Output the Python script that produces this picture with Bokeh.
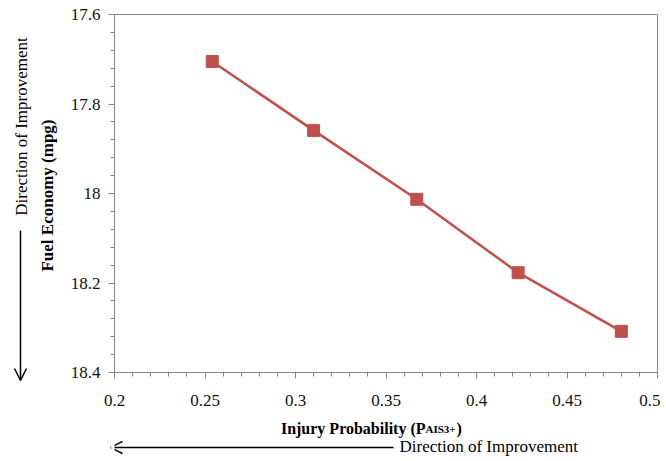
import numpy as np
from bokeh.plotting import figure
from bokeh.layouts import row, column
from bokeh.models import (Range1d, FixedTicker, Arrow, OpenHead,
                          CustomJSTickFormatter)
from bokeh.core.properties import value
from bokeh.embed import file_html
from bokeh.resources import INLINE

# ---- data ----
injury_prob = [0.254, 0.310, 0.367, 0.423, 0.480]
fuel_economy = [17.705, 17.859, 18.013, 18.177, 18.308]
x_ticks = [0.2, 0.25, 0.3, 0.35, 0.4, 0.45, 0.5]
y_ticks = [17.6, 17.8, 18.0, 18.2, 18.4]
x_title = "Injury Probability (P"
x_title_sub = "AIS3+"
x_title_end = ")"
y_title = "Fuel Economy (mpg)"
improve_text = "Direction of Improvement"

RED = "#C0504D"
GRAY = "#868686"
SERIF = "Liberation Serif"


def minors(ticks, n=5):
    out = []
    for a, b in zip(ticks[:-1], ticks[1:]):
        out.extend(np.linspace(a, b, n + 1)[1:-1].tolist())
    return out


def blank(width, height, xr, yr):
    f = figure(width=width, height=height, output_backend="svg",
               toolbar_location=None, x_range=Range1d(*xr), y_range=Range1d(*yr),
               x_axis_type=None, y_axis_type=None,
               min_border=0, min_border_left=0, min_border_right=0,
               min_border_top=0, min_border_bottom=0)
    f.outline_line_color = None
    f.grid.visible = False
    f.background_fill_color = "white"
    f.border_fill_color = "white"
    return f


# ---------- main plot ----------
p = figure(width=600, height=420, output_backend="svg", toolbar_location=None,
           x_range=Range1d(x_ticks[0], x_ticks[-1]),
           y_range=Range1d(y_ticks[-1], y_ticks[0]),
           min_border_left=54, min_border_right=3,
           min_border_top=14, min_border_bottom=48)
p.background_fill_color = "white"
p.border_fill_color = "white"
p.outline_line_color = GRAY
p.outline_line_width = 1
p.grid.visible = False

fmt = CustomJSTickFormatter(code="""
let s = tick.toFixed(2);
s = s.replace(/0+$/, '').replace(/\\.$/, '');
return s;
""")

p.xaxis.ticker = FixedTicker(ticks=x_ticks, minor_ticks=minors(x_ticks))
p.yaxis.ticker = FixedTicker(ticks=y_ticks, minor_ticks=minors(y_ticks))
for ax in (p.xaxis[0], p.yaxis[0]):
    ax.formatter = fmt
    ax.axis_line_color = GRAY
    ax.major_tick_line_color = GRAY
    ax.minor_tick_line_color = GRAY
    ax.major_tick_in = 0
    ax.major_tick_out = 6
    ax.minor_tick_in = 0
    ax.minor_tick_out = 4
    ax.major_label_text_font = SERIF
    ax.major_label_text_font_size = "17px"
    ax.major_label_text_color = "#111111"
p.xaxis.major_label_standoff = 16
p.yaxis.major_label_standoff = 8

p.line(injury_prob, fuel_economy, line_color=RED, line_width=2.5)
p.scatter(injury_prob, fuel_economy, marker="square", size=12,
          fill_color=RED, line_color=RED)

# ---------- left strip (page x 0..60, y 0..458) ----------
left = blank(60, 458, (0, 60), (458, 0))
left.text(x=[47], y=[195], text=[y_title], text_font=value(SERIF),
          text_font_style="bold", text_font_size="17px", text_align="center",
          text_baseline="middle", angle=np.pi / 2, text_color="black")
left.text(x=[21], y=[126], text=[improve_text], text_font=value(SERIF),
          text_font_size="17px", text_align="center",
          text_baseline="middle", angle=np.pi / 2, text_color="black")
left.add_layout(Arrow(x_start=20, y_start=230, x_end=20, y_end=380,
                      line_color="black", line_width=1.5,
                      end=OpenHead(size=12, line_color="black", line_width=1.5)))

# ---------- bottom strip (frame aligned to main frame: page x 114..657, y 420..458) ----------
bottom = blank(600, 38, (114, 657), (458, 420))
bottom.text(x=[425], y=[428], text=[x_title], text_font=value(SERIF),
            text_font_style="bold", text_font_size="16px", text_align="right",
            text_baseline="alphabetic", text_color="black")
bottom.text(x=[425], y=[428], text=[x_title_sub], text_font=value(SERIF),
            text_font_style="bold", text_font_size="11px", text_align="left",
            text_baseline="alphabetic", text_color="black")
bottom.text(x=[456], y=[428], text=[x_title_end], text_font=value(SERIF),
            text_font_style="bold", text_font_size="16px", text_align="left",
            text_baseline="alphabetic", text_color="black")
bottom.text(x=[399], y=[446], text=[improve_text], text_font=value(SERIF),
            text_font_size="17px", text_align="left",
            text_baseline="middle", text_color="black")
bottom.add_layout(Arrow(x_start=393, y_start=447, x_end=110, y_end=447,
                        line_color="black", line_width=1.5,
                        end=OpenHead(size=12, line_color="black", line_width=1.5)))

layout = row(left, column(p, bottom, spacing=0), spacing=0)

open("out.html", "w").write(file_html(layout, INLINE))
